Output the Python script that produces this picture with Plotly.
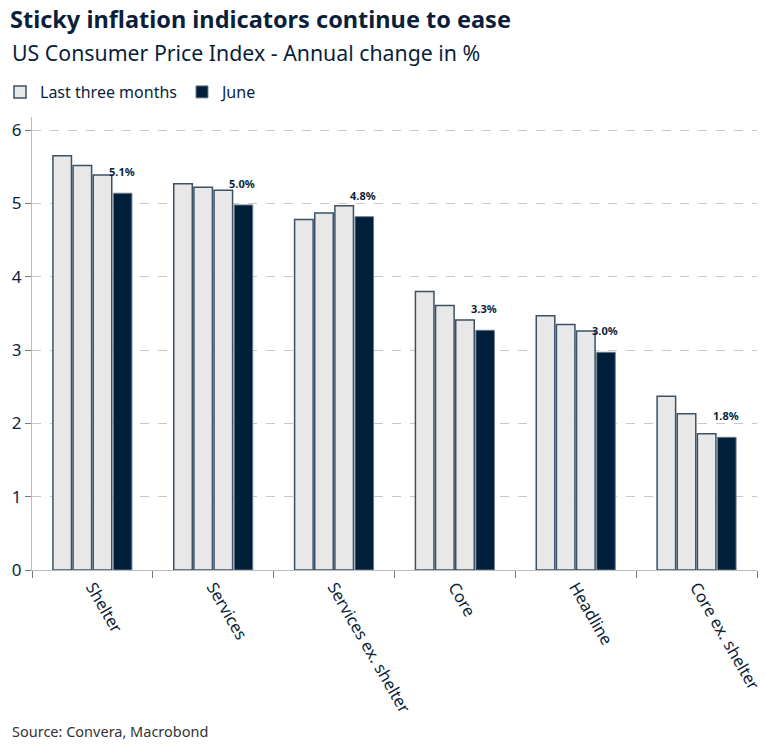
import plotly.graph_objects as go

categories = ["Shelter", "Services", "Services ex. shelter", "Core", "Headline", "Core ex. shelter"]
march = [5.65, 5.27, 4.78, 3.80, 3.47, 2.37]
april = [5.52, 5.22, 4.87, 3.61, 3.35, 2.13]
may = [5.39, 5.18, 4.97, 3.41, 3.26, 1.86]
june = [5.14, 4.98, 4.82, 3.27, 2.97, 1.81]
y_ticks = [0, 1, 2, 3, 4, 5, 6]

NAVY = "#001f3a"
LIGHT = "#e8e8e8"
EDGE = "#3d5166"
TXT = "#0b1f3a"
FONT = "Noto Sans"

W, H = 765, 750
ML, MR, MT, MB = 32, 8, 117, 180
BARGAP = 0.333
plot_w = W - ML - MR
plot_h = H - MT - MB

def py(ypix):
    return (H - MB - ypix) / plot_h

def px(xpix):
    return (xpix - ML) / plot_w

fig = go.Figure()
for i, vals in enumerate([march, april, may]):
    fig.add_trace(go.Bar(
        x=categories, y=vals, name="Last three months",
        legendgroup="last3", showlegend=(i == 0),
        marker=dict(color=LIGHT, line=dict(color=EDGE, width=1.5)),
    ))
fig.add_trace(go.Bar(
    x=categories, y=june, name="June",
    marker=dict(color=NAVY, line=dict(color="#6b7b8c", width=1)),
))

slot = plot_w / len(categories) * (1 - BARGAP) / 4
for c, v in zip(categories, june):
    fig.add_annotation(
        x=c, y=v, text=f"{v:.1f}%", showarrow=False,
        xshift=1.5 * slot - 1, yshift=12, yanchor="bottom",
        font=dict(family=FONT, size=11, color=TXT, weight="bold"),
    )

fig.add_annotation(xref="paper", yref="paper", x=px(10), y=py(53),
                   xanchor="left", yanchor="middle", showarrow=False,
                   text="US Consumer Price Index - Annual change in %",
                   font=dict(family=FONT, size=21.3, color=TXT))
fig.add_annotation(xref="paper", yref="paper", x=px(10), y=py(731),
                   xanchor="left", yanchor="middle", showarrow=False,
                   text="Source: Convera, Macrobond",
                   font=dict(family=FONT, size=14.5, color="#333333"))

fig.update_layout(
    width=W, height=H,
    margin=dict(l=ML, r=MR, t=MT, b=MB, autoexpand=False),
    paper_bgcolor="white", plot_bgcolor="white",
    barmode="group", bargap=BARGAP, bargroupgap=0.08,
    title=dict(text="<b>Sticky inflation indicators continue to ease</b>",
               xref="container", x=10 / W, xanchor="left",
               yref="container", y=1 - 20 / H, yanchor="middle",
               font=dict(family=FONT, size=23.5, color=TXT)),
    legend=dict(orientation="h", xref="container", yref="container",
                x=-0.022, y=1 - 92 / H, xanchor="left", yanchor="middle",
                font=dict(family=FONT, size=16, color=TXT),
                itemwidth=30, tracegroupgap=0),
    font=dict(family=FONT, color=TXT),
)
fig.update_yaxes(
    range=[0, 6.18], tickvals=y_ticks, showgrid=True, automargin=False,
    gridcolor="#c8c8c8", griddash="dash", gridwidth=1,
    showline=True, linecolor="#bbbbbb", linewidth=1,
    ticks="outside", ticklen=6, tickcolor="#777777",
    tickfont=dict(family=FONT, size=17, color=TXT), zeroline=False,
)
fig.update_xaxes(
    showline=True, linecolor="#bbbbbb", linewidth=1, automargin=False,
    ticks="outside", tickson="boundaries", ticklen=7, tickcolor="#777777",
    tickangle=60, tickfont=dict(family=FONT, size=16.5, color=TXT),
)

fig.write_html("out.html", config={"displayModeBar": False},
               post_script="document.body.style.margin='0';document.body.style.overflow='hidden';")
